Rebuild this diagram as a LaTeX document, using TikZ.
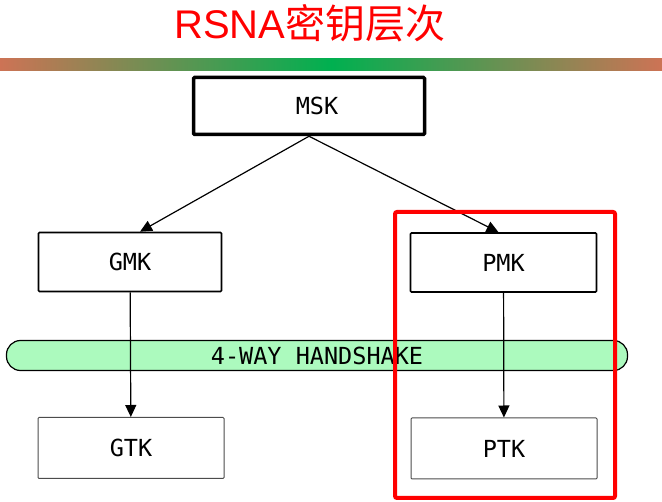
\documentclass[tikz,border=0pt]{standalone}
\usepackage{fontspec}
\setmainfont{Liberation Sans}
\setmonofont{DejaVu Sans Mono}
\newfontfamily\cjk{Noto Sans CJK SC}
\usetikzlibrary{arrows.meta}
\definecolor{barend}{RGB}{205,115,85}
\definecolor{barmid}{RGB}{0,176,80}
\definecolor{bandfill}{RGB}{172,250,190}
\begin{document}
\begin{tikzpicture}[x=1pt,y=-1pt,
    keybox/.style={draw,fill=white,rounded corners=1pt,inner sep=0pt,
        font=\ttfamily\fontsize{23.5}{27}\selectfont},
    link/.style={line width=1.2pt,-{Triangle[length=12pt,width=11pt]}}]
    \useasboundingbox (0,0) rectangle (662,502);
    % title and bar
    \node[text=red,font=\fontsize{40}{44}\selectfont] (title) at (310,23) {RSNA{\cjk 密钥层次}};
    \fill[left color=barend,right color=barend,middle color=barmid] (0,59) rectangle (662,71);
    % handshake band
    \node[draw,line width=1.2pt,fill=bandfill,rounded corners=14pt,minimum width=621pt,
        minimum height=30pt,font=\ttfamily\fontsize{23.5}{27}\selectfont] (band) at (317,355.5) {4-WAY HANDSHAKE};
    % keys
    \node[keybox,line width=3.5pt,minimum width=231pt,minimum height=57pt] (msk) at (309,106) {\hspace*{16pt}MSK};
    \node[keybox,line width=1.6pt,minimum width=183pt,minimum height=59pt] (gmk) at (130,262) {GMK};
    \node[keybox,line width=1.6pt,minimum width=186pt,minimum height=59pt] (pmk) at (503.5,262.5) {PMK};
    \node[keybox,draw=black!70,line width=1pt,minimum width=186pt,minimum height=61pt] (gtk) at (131,448) {GTK};
    \node[keybox,draw=black!70,line width=1pt,minimum width=186pt,minimum height=61pt] (ptk) at (504,448.5) {PTK};
    % derivation arrows
    \draw[link] (msk.south) -- ([xshift=10pt]gmk.north);
    \draw[link] (msk.south) -- ([xshift=-5pt]pmk.north);
    \foreach \u/\v in {gmk/gtk, pmk/ptk}
    {   \draw[link] (\u) -- (\v);
    }
    % highlight
    \draw[red,line width=4pt,rounded corners=2pt] (395,212) rectangle (615,498);
\end{tikzpicture}
\end{document}
